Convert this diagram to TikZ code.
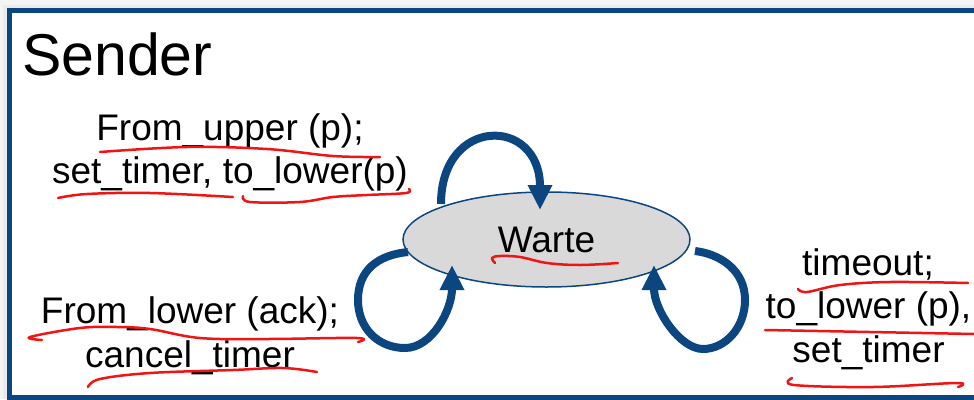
\documentclass[tikz,border=0pt]{standalone}
\usepackage{fontspec}
\setmainfont{Liberation Sans}
\usetikzlibrary{arrows.meta,shapes.geometric,calc}
\definecolor{navy}{HTML}{0B4680}
\definecolor{pen}{HTML}{F01515}
\definecolor{stategray}{HTML}{D9D9D9}
\begin{document}
\begin{tikzpicture}[x=1pt,y=-1pt,
  lbl/.style={anchor=base,inner sep=0pt,font=\fontsize{37}{43}\selectfont},
  selfloop/.style={draw=navy,line width=8pt,-{Triangle[width=23pt,length=25pt]}},
  ink/.style={draw=pen,line width=2.5pt,line cap=round,line join=round},
  state/.style={ellipse,draw=navy,line width=1.5pt,fill=stategray,
    minimum width=287pt,minimum height=95pt,inner sep=0pt,
    font=\fontsize{37}{43}\selectfont}]
\useasboundingbox (0,0) rectangle (974,399);
\clip (0,0) rectangle (974,399);

% panel with its soft shadow
\fill[gray!9] (0,0) rectangle (974,399);
\fill[gray!16] (3,5) rectangle (974,399);
\draw[navy,line width=5pt,fill=white] (9.5,10.5) rectangle (1000,397.5);

% title
\node[anchor=base west,inner sep=0pt,font=\fontsize{59}{66}\selectfont] (title) at (22,75) {Sender};

% the single state
\node[state] (w) at (546.5,239.5) {Warte};

% transition labels
\node[lbl] (a1) at (230,140) {From\_upper (p);};
\node[lbl] (a2) at (230,183) {set\_timer, to\_lower(p)};
\node[lbl] (b1) at (190,323) {From\_lower (ack);};
\node[lbl] (b2) at (190,367) {cancel\_timer};
\node[lbl] (c1) at (868,275) {timeout;};
\node[lbl] (c2) at (868.5,318) {to\_lower (p),};
\node[lbl] (c3) at (868.5,362) {set\_timer};

% self transitions
\draw[selfloop] ($(w.center)+(-105.5,-35.5)$) .. controls +(0,-88) and +(0,-94) .. ($(w.center)+(-6.5,-29.5)$);
\draw[selfloop] ($(w.center)+(-138.5,12.5)$)
  .. controls +(-30,3) and +(0,-30) .. ($(w.center)+(-188.5,60.5)$)
  .. controls +(0,28) and +(-27,0) .. ($(w.center)+(-141.5,108.5)$)
  .. controls +(27,0) and +(0,45) .. ($(w.center)+(-94.5,25.5)$);
\draw[selfloop] ($(w.center)+(148.5,11.5)$)
  .. controls +(25,3) and +(0,-30) .. ($(w.center)+(198.5,60.5)$)
  .. controls +(0,28) and +(22,0) .. ($(w.center)+(156.5,109.5)$)
  .. controls +(-23,0) and +(0,45) .. ($(w.center)+(107.5,25.5)$);

% hand-drawn red underlines
\draw[ink] plot[smooth,tension=0.6] coordinates {(100,152) (187,147) (267,149) (333,156) (380,157)};
\draw[ink] plot[smooth,tension=0.6] coordinates {(58,198) (87,194) (150,193) (233,197)};
\draw[ink] plot[smooth,tension=0.6] coordinates {(243,196) (250,202) (300,202) (333,197) (367,195) (406,193) (409,189)};
\draw[ink] plot[smooth,tension=0.6] coordinates {(495,263) (492,258) (500,256) (520,257) (547,263) (580,265) (618,263)};
\draw[ink] plot[smooth,tension=0.6] coordinates {(42,340) (30,337) (80,328) (117,327) (150,329) (200,338) (267,339) (357,338) (358,342)};
\draw[ink] plot[smooth,tension=0.6] coordinates {(88,387) (100,379) (150,373) (233,370) (283,368) (317,372)};
\draw[ink] plot[smooth,tension=0.6] coordinates {(798,289) (807,292) (840,285) (890,282) (968,283)};
\draw[ink] plot[smooth,tension=0.6] coordinates {(765,330) (870,332) (974,334)};
\draw[ink] plot[smooth,tension=0.6] coordinates {(792,378) (794,385) (873,387) (957,383) (958,387)};
\end{tikzpicture}
\end{document}
